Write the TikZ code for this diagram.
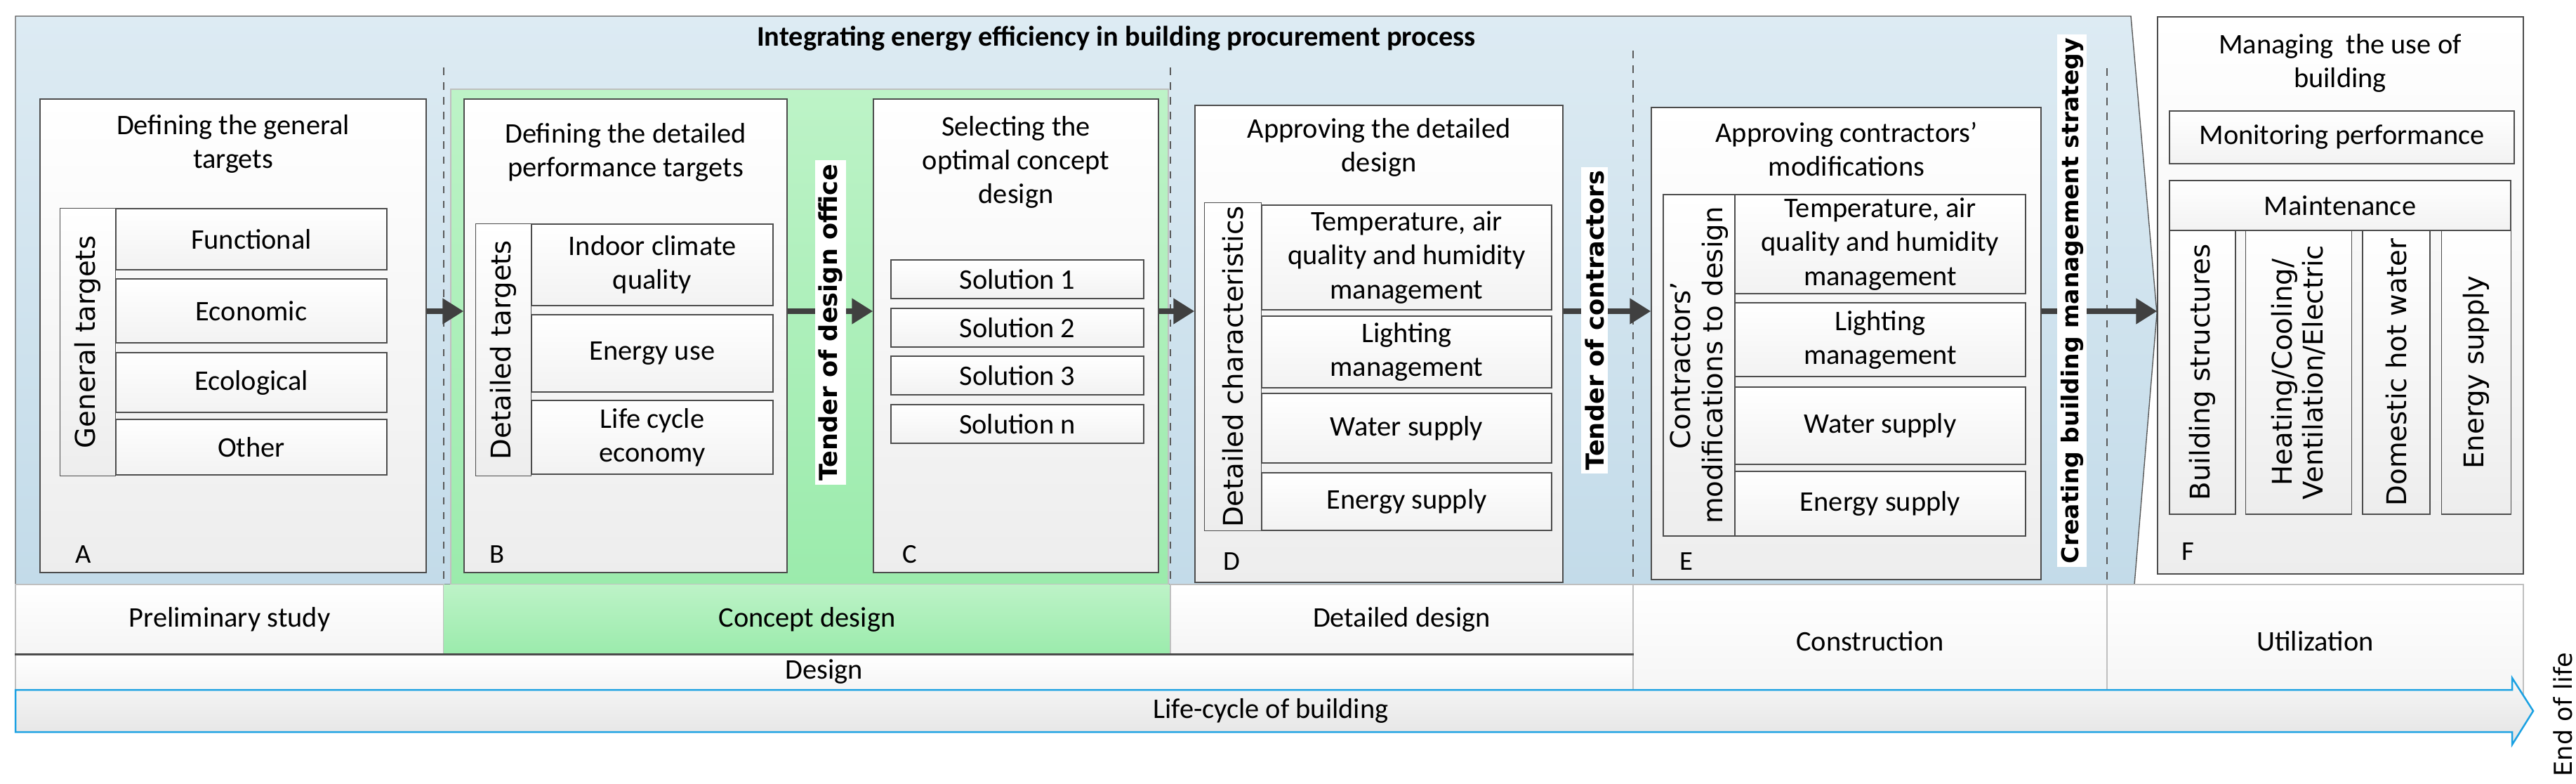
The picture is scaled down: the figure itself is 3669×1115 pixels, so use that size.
\documentclass[tikz,border=0pt]{standalone}
\usepackage{fontspec}
\setmainfont{Carlito}
\newfontfamily\verd{DejaVu Sans}
\usetikzlibrary{positioning,arrows.meta,shapes,calc}
\definecolor{panelT}{HTML}{DDEBF3}
\definecolor{panelB}{HTML}{C3DBE9}
\definecolor{greenT}{HTML}{BDF3C7}
\definecolor{greenB}{HTML}{9BEBAC}
\definecolor{flowgray}{HTML}{404040}
\definecolor{lifeblue}{HTML}{1BA1E2}
% cell{name}{x1}{y1}{x2}{y2}{style}{text}
\newcommand\cell[7]{\node[#6,minimum width={(#4-#2)*0.1mm},minimum height={(#5-#3)*0.1mm}] (#1) at ({(#2+#4)/2},{(#3+#5)/2}) {#7};}

\begin{document}
\begin{tikzpicture}[
    x=0.1mm,y=-0.1mm,
    box/.style={rectangle,draw=gray!60!black,top color=white,bottom color=gray!14,inner sep=0pt,align=center,font=\fontsize{11.5}{13.7}\selectfont},
    item/.style={box,top color=white,bottom color=gray!10},
    side/.style={box,rotate=90,font=\verd\fontsize{11}{13}\selectfont},
    col/.style={box,rotate=90,font=\verd\fontsize{11}{12.5}\selectfont},
    title/.style={align=center,font=\fontsize{11.5}{13.7}\selectfont,inner sep=0pt},
    letter/.style={font=\fontsize{11}{13}\selectfont,inner sep=0pt},
    tender/.style={fill=white,rotate=90,inner sep=1.5pt,font=\verd\bfseries\fontsize{10}{12}\selectfont},
    phase/.style={box,draw=gray!50,top color=white,bottom color=gray!8},
    flow/.style={-{Triangle[length=3mm,width=3.5mm]},line width=0.8mm,flowgray},
    sep/.style={dashed,gray!70!black,line width=0.2mm}
]
    \useasboundingbox (0,0) rectangle (3669,1115);

    % Procurement panel
    \path[draw=gray!70!black,top color=panelT,bottom color=panelB] (22,23) -- (3035,23) -- (3072,446) -- (3040,832) -- (22,832) -- cycle;
    \node[font=\bfseries\fontsize{11.5}{13.7}\selectfont] (proc) at (1590,55) {Integrating energy efficiency in building procurement process};
    \path[draw=gray!50,top color=greenT,bottom color=greenB] (642,127) rectangle (1664,832);

    \draw[sep] (632,96) -- (632,832);
    \draw[sep] (1667,96) -- (1667,832);
    \draw[sep] (2326,72) -- (2326,994);
    \draw[sep] (3001,97) -- (3001,994);

    % A
    \cell{A}{57}{141}{607}{815}{box}{}
    \node[title] (Atitle) at (332,205) {Defining the general\\targets};
    \node[letter] (Alet) at (119,789) {A};
    \node[side,minimum width=381*0.1mm,minimum height=79*0.1mm] (gen) at (125,487) {General targets};
    \cell{fun}{165}{297}{551}{384}{item}{Functional}
    \cell{eco}{165}{397}{551}{488}{item}{Economic}
    \cell{ecl}{165}{502}{551}{587}{item}{Ecological}
    \cell{oth}{165}{597}{551}{676}{item}{Other}

    % B
    \cell{B}{661}{141}{1121}{815}{box}{}
    \node[title] (Btitle) at (891,217) {Defining the detailed\\performance targets};
    \node[letter] (Blet) at (708,789) {B};
    \node[side,minimum width=359*0.1mm,minimum height=79*0.1mm] (det) at (717,498) {Detailed targets};
    \cell{ind}{757}{319}{1101}{435}{item}{Indoor climate\\quality}
    \cell{enu}{757}{448}{1101}{558}{item}{Energy use}
    \cell{lce}{757}{570}{1101}{675}{item}{Life cycle\\economy}

    % C
    \cell{C}{1244}{141}{1650}{815}{box}{}
    \node[title] (Ctitle) at (1447,231) {Selecting the\\optimal concept\\design};
    \node[letter] (Clet) at (1296,789) {C};
    \cell{s1}{1269}{370}{1629}{425}{item}{Solution 1}
    \cell{s2}{1269}{439}{1629}{494}{item}{Solution 2}
    \cell{s3}{1269}{507}{1629}{562}{item}{Solution 3}
    \cell{sn}{1269}{576}{1629}{631}{item}{Solution n}

    % D
    \cell{D}{1702}{150}{2226}{829}{box}{}
    \node[title] (Dtitle) at (1964,210) {Approving the detailed\\design};
    \node[letter] (Dlet) at (1754,799) {D};
    \node[side,minimum width=467*0.1mm,minimum height=81*0.1mm] (dch) at (1756,522) {Detailed characteristics};
    \cell{dtmp}{1797}{292}{2210}{441}{item}{Temperature, air\\quality and humidity\\management}
    \cell{dlig}{1797}{450}{2210}{552}{item}{Lighting\\management}
    \cell{dwat}{1797}{560}{2210}{659}{item}{Water supply}
    \cell{deng}{1797}{673}{2210}{755}{item}{Energy supply}

    % E
    \cell{E}{2352}{153}{2907}{825}{box}{}
    \node[title] (Etitle) at (2630,212) {Approving contractors’\\modifications};
    \node[letter] (Elet) at (2402,799) {E};
    \node[side,minimum width=486*0.1mm,minimum height=102*0.1mm] (cmd) at (2420,520) {Contractors’\\modifications to design};
    \cell{etmp}{2471}{277}{2885}{418}{item}{Temperature, air\\quality and humidity\\management}
    \cell{elig}{2471}{431}{2885}{536}{item}{Lighting\\management}
    \cell{ewat}{2471}{551}{2885}{661}{item}{Water supply}
    \cell{eeng}{2471}{671}{2885}{763}{item}{Energy supply}

    % F
    \cell{F}{3073}{24}{3594}{817}{box}{}
    \node[title] (Ftitle) at (3333,90) {Managing\ \ the use of\\building};
    \node[letter] (Flet) at (3116,785) {F};
    \cell{mon}{3090}{158}{3581}{233}{item}{Monitoring performance}
    \cell{mnt}{3090}{257}{3576}{328}{item}{Maintenance}
    \node[col,minimum width=404*0.1mm,minimum height=94*0.1mm] (bst) at (3137,530) {Building structures};
    \node[col,minimum width=404*0.1mm,minimum height=151*0.1mm] (hvac) at (3274,530) {Heating/Cooling/\\Ventilation/Electric};
    \node[col,minimum width=404*0.1mm,minimum height=96*0.1mm] (dhw) at (3413,530) {Domestic hot water};
    \node[col,minimum width=404*0.1mm,minimum height=99*0.1mm] (fen) at (3527,530) {Energy supply};

    % Arrows
    \coordinate (ay) at (0,443);
    \draw[flow] (A.east |- ay) -- (B.west |- ay);
    \draw[flow] (B.east |- ay) -- (C.west |- ay);
    \draw[flow] (C.east |- ay) -- (D.west |- ay);
    \draw[flow] (D.east |- ay) -- (E.west |- ay);
    \draw[flow] (E.east |- ay) -- (F.west |- ay);
    \node[tender] (tdo) at (1183,459) {Tender of design office};
    \node[tender] (tco) at (2271,456) {Tender of contractors};
    \node[tender,font=\verd\bfseries\fontsize{9.4}{11}\selectfont] (cbm) at (2951,428) {Creating building management strategy};

    % Phases
    \cell{pre}{22}{832}{632}{931}{phase}{Preliminary study}
    \cell{con}{632}{832}{1667}{931}{phase,draw=none,top color=greenT,bottom color=greenB}{Concept design}
    \cell{ddes}{1667}{832}{2326}{931}{phase}{Detailed design}
    \cell{cst}{2326}{832}{3001}{994}{phase}{Construction}
    \cell{uti}{3001}{832}{3594}{994}{phase}{Utilization}
    \cell{des}{22}{931}{2326}{982}{phase}{Design}
    \draw[gray!60!black,line width=0.3mm] (pre.south west) -- (ddes.south east);
    \path[draw=lifeblue,line width=0.25mm,top color=gray!6,bottom color=gray!22] (22,982) -- (3578,982) -- (3578,965) -- (3608,1012) -- (3578,1060) -- (3578,1042) -- (22,1042) -- cycle;
    \node[font=\fontsize{11.5}{13.7}\selectfont] (life) at (1810,1012) {Life-cycle of building};
    \node[rotate=90,font=\verd\fontsize{10}{12}\selectfont] (eol) at (3650,1017) {End of life};
\end{tikzpicture}
\end{document}
